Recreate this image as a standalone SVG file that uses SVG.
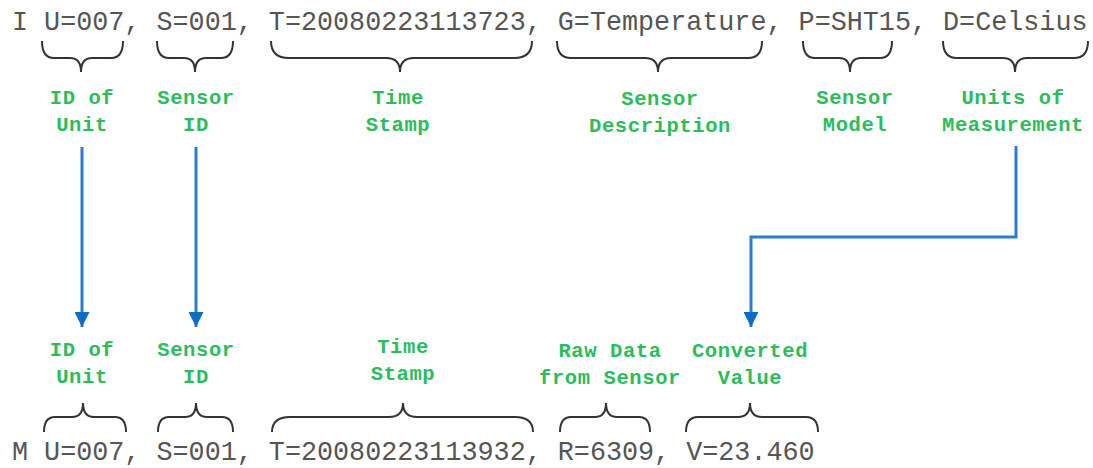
<svg xmlns="http://www.w3.org/2000/svg" width="1093" height="468" viewBox="0 0 1093 468">
<defs>
<style>
.rec{font-family:"Liberation Mono","Courier New",monospace;font-size:26.75px;fill:#555}
.lbl{font-family:"Liberation Mono","Courier New",monospace;font-size:20.5px;letter-spacing:0.6px;font-weight:bold;fill:#2bbd5b;text-anchor:middle}
.brace{fill:none;stroke:#333;stroke-width:2}
.conn{fill:none;stroke:#2a7cd0;stroke-width:3}
</style>
<marker id="ah" viewBox="0 0 10 10" refX="10" refY="5" markerWidth="5" markerHeight="5" markerUnits="strokeWidth" orient="auto">
<path d="M0,0 L10,5 L0,10 Z" fill="#0d6cc6"/>
</marker>
</defs>
<rect width="1093" height="468" fill="#fff"/>
<g id="record-top"><text class="rec" x="12" y="30">I U=007, S=001, T=20080223113723, G=Temperature, P=SHT15, D=Celsius</text></g>
<g id="record-bottom"><text class="rec" x="12" y="460">M U=007, S=001, T=20080223113932, R=6309, V=23.460</text></g>
<g id="braces-top">
<path class="brace" d="M42,41 Q42,58 54,58 L70,58 Q81,58 81,72 Q81,58 92,58 L111,58 Q123,58 123,41"/>
<path class="brace" d="M157,41 Q157,58 169,58 L184,58 Q195,58 195,72 Q195,58 206,58 L221,58 Q233,58 233,41"/>
<path class="brace" d="M271,41 Q271,58 289,58 L386,58 Q400,58 400,72 Q400,58 414,58 L514,58 Q532,58 532,41"/>
<path class="brace" d="M557,41 Q557,58 571,58 L645,58 Q658,58 658,72 Q658,58 671,58 L748,58 Q762,58 762,41"/>
<path class="brace" d="M803,41 Q803,58 815,58 L839,58 Q850,58 850,72 Q850,58 861,58 L880,58 Q892,58 892,41"/>
<path class="brace" d="M943,41 Q943,58 957,58 L1003,58 Q1015,58 1015,72 Q1015,58 1027,58 L1074,58 Q1088,58 1088,41"/>
</g>
<g id="braces-bottom">
<path class="brace" d="M44,432 Q44,417 55,417 L72,417 Q83,417 83,403 Q83,417 94,417 L115,417 Q126,417 126,432"/>
<path class="brace" d="M158,432 Q158,417 169,417 L185,417 Q196,417 196,403 Q196,417 207,417 L222,417 Q233,417 233,432"/>
<path class="brace" d="M272,432 Q272,417 290,417 L389,417 Q403,417 403,403 Q403,417 417,417 L515,417 Q533,417 533,432"/>
<path class="brace" d="M560,432 Q560,417 571,417 L595,417 Q606,417 606,403 Q606,417 617,417 L639,417 Q650,417 650,432"/>
<path class="brace" d="M686,432 Q686,417 698,417 L738,417 Q750,417 750,403 Q750,417 762,417 L806,417 Q818,417 818,432"/>
</g>
<g id="labels-top">
<g id="t-unit"><text class="lbl" x="82" y="104">ID of</text><text class="lbl" x="82" y="131">Unit</text></g>
<g id="t-sensor"><text class="lbl" x="196" y="104">Sensor</text><text class="lbl" x="196" y="131">ID</text></g>
<g id="t-time"><text class="lbl" x="398" y="104">Time</text><text class="lbl" x="398" y="131">Stamp</text></g>
<g id="t-desc"><text class="lbl" x="660" y="105">Sensor</text><text class="lbl" x="660" y="132">Description</text></g>
<g id="t-model"><text class="lbl" x="855" y="104">Sensor</text><text class="lbl" x="855" y="131">Model</text></g>
<g id="t-units"><text class="lbl" x="1013" y="104">Units of</text><text class="lbl" x="1013" y="131">Measurement</text></g>
</g>
<g id="labels-bottom">
<g id="b-unit"><text class="lbl" x="82" y="356">ID of</text><text class="lbl" x="82" y="383">Unit</text></g>
<g id="b-sensor"><text class="lbl" x="196" y="356">Sensor</text><text class="lbl" x="196" y="383">ID</text></g>
<g id="b-time"><text class="lbl" x="403" y="353">Time</text><text class="lbl" x="403" y="380">Stamp</text></g>
<g id="b-raw"><text class="lbl" x="610" y="357">Raw Data</text><text class="lbl" x="610" y="384">from Sensor</text></g>
<g id="b-conv"><text class="lbl" x="750" y="357">Converted</text><text class="lbl" x="750" y="384">Value</text></g>
</g>
<g id="connectors">
<path class="conn" d="M82,147 L82,327" marker-end="url(#ah)"/>
<path class="conn" d="M196,147 L196,327" marker-end="url(#ah)"/>
<path class="conn" d="M1016,146 L1016,237 L751,237 L751,327" marker-end="url(#ah)"/>
</g>
</svg>
